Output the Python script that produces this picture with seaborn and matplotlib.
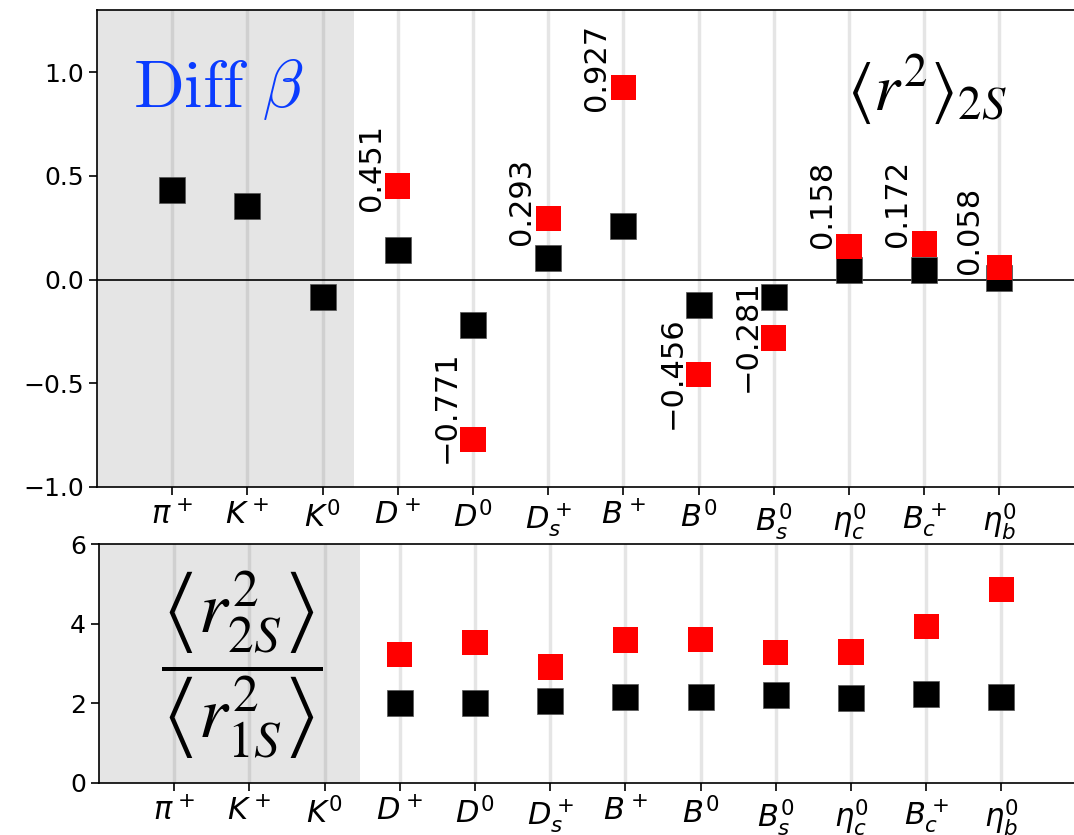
import matplotlib
matplotlib.use("Agg")
import matplotlib.pyplot as plt
import seaborn as sns
import pandas as pd
import numpy as np

sns.set_style("ticks")
plt.rcParams['font.family'] = ['DejaVu Sans']
for k in ['text.color', 'axes.labelcolor', 'xtick.color', 'ytick.color', 'axes.edgecolor']:
    plt.rcParams[k] = 'black'

labels = [r'$\pi^+$', r'$K^+$', r'$K^0$', r'$D^+$', r'$D^0$', r'$D_s^+$',
          r'$B^+$', r'$B^0$', r'$B_s^0$', r'$\eta_c^0$', r'$B_c^+$', r'$\eta_b^0$']

# top panel: Diff beta for <r^2>_2S
top_black = [0.431, 0.357, -0.082, 0.145, -0.218, 0.105, 0.260, -0.121, -0.083, 0.048, 0.045, 0.010]
top_red_idx = [3, 4, 5, 6, 7, 8, 9, 10, 11]
top_red = [0.451, -0.771, 0.293, 0.927, -0.456, -0.281, 0.158, 0.172, 0.058]

# bottom panel: ratio <r2S^2>/<r1S^2>
bot_idx = [3, 4, 5, 6, 7, 8, 9, 10, 11]
bot_black = [2.02, 2.01, 2.05, 2.16, 2.17, 2.21, 2.13, 2.23, 2.17]
bot_red = [3.22, 3.52, 2.91, 3.59, 3.60, 3.27, 3.29, 3.92, 4.85]

# label placement (style): offsets of value labels from their markers
lab_dx = [-0.16, -0.16, -0.16, -0.16, -0.16, -0.16, -0.16, -0.16, -0.20]
lab_dy = [-0.118, -0.113, -0.126, -0.115, -0.264, -0.26, -0.008, -0.013, -0.029]

fig = plt.figure(figsize=(10.74, 8.35), dpi=100)
W = 13.5 * 75.2 / 1074
ax1 = fig.add_axes([97 / 1074, 1 - 487 / 835, W, 477 / 835])
ax2 = fig.add_axes([99 / 1074, 1 - 783 / 835, W, 239 / 835])

x = np.arange(len(labels))

def style(ax, span_end):
    ax.axvspan(-1, span_end, color='gray', alpha=0.2, lw=0, zorder=0)
    for xi in x:
        ax.axvline(xi, color='gray', alpha=0.2, lw=2.5, zorder=0.5)
    ax.set_xlim(-1, 12.5)
    ax.set_xticks(x)
    ax.set_xticklabels(labels)
    ax.tick_params(axis='y', labelsize=18, length=6, width=1.2)
    ax.tick_params(axis='x', labelsize=22, length=6, width=1.2, pad=4)
    for s in ax.spines.values():
        s.set_linewidth(1.2)

style(ax1, 2.42)
style(ax2, 2.47)

df_tb = pd.DataFrame({'x': x, 'y': top_black})
df_tr = pd.DataFrame({'x': top_red_idx, 'y': top_red})
sns.scatterplot(data=df_tb, x='x', y='y', marker='s', s=330, color='black',
                edgecolor='#555555', linewidth=0.5, ax=ax1, zorder=3)
sns.scatterplot(data=df_tr, x='x', y='y', marker='s', s=330, color='red',
                edgecolor='none', linewidth=0, ax=ax1, zorder=4)
ax1.axhline(0, color='black', lw=1.2, zorder=2)
ax1.set_ylim(-1, 1.30)
ax1.set_yticks([-1.0, -0.5, 0.0, 0.5, 1.0])
ax1.set_xlabel('')
ax1.set_ylabel('')
for xi, v, dx, dy in zip(top_red_idx, top_red, lab_dx, lab_dy):
    ax1.text(xi + dx, v + dy, f"{v:.3f}".replace('-', '\u2212'), rotation=90,
             ha='right', va='bottom', fontsize=22, zorder=5)

ax1.text(0.62, 0.92, r'$\mathrm{Diff}\ \beta$', color='#0a3cff', fontsize=48,
         ha='center', va='center', math_fontfamily='cm')
ax1.text(10.03, 0.92, r'$\left\langle r^2 \right\rangle_{2S}$', fontsize=48,
         ha='center', va='center', math_fontfamily='stix')

df_bb = pd.DataFrame({'x': bot_idx, 'y': bot_black})
df_br = pd.DataFrame({'x': bot_idx, 'y': bot_red})
sns.scatterplot(data=df_bb, x='x', y='y', marker='s', s=330, color='black',
                edgecolor='#555555', linewidth=0.5, ax=ax2, zorder=3)
sns.scatterplot(data=df_br, x='x', y='y', marker='s', s=330, color='red',
                edgecolor='none', linewidth=0, ax=ax2, zorder=4)
ax2.set_ylim(0, 6)
ax2.set_yticks([0, 2, 4, 6])
ax2.set_xlabel('')
ax2.set_ylabel('')
ax2.text(0.9, 2.95, r'$\dfrac{\left\langle r^2_{2S} \right\rangle}{\left\langle r^2_{1S} \right\rangle}$',
         fontsize=53, ha='center', va='center', math_fontfamily='stix')

fig.savefig('out.png', dpi=100)
